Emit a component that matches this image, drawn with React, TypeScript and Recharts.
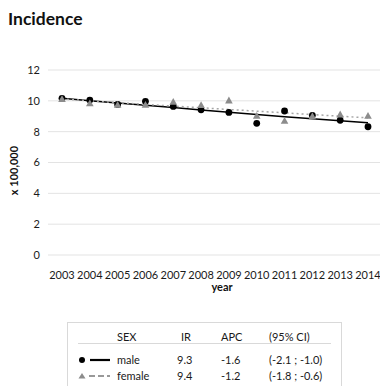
import {
  ComposedChart,
  Line,
  XAxis,
  YAxis,
  CartesianGrid,
} from "recharts";

const years = ["2003", "2004", "2005", "2006", "2007", "2008", "2009", "2010", "2011", "2012", "2013", "2014"];
const maleObserved = [10.16, 10.05, 9.77, 9.97, 9.64, 9.42, 9.25, 8.54, 9.34, 9.06, 8.74, 8.32];
const femaleObserved = [10.12, 9.84, 9.75, 9.75, 9.94, 9.73, 10.03, 9.03, 8.71, 9.01, 9.12, 9.03];
const maleTrend = [10.16, 10.01, 9.86, 9.71, 9.56, 9.41, 9.26, 9.11, 8.97, 8.84, 8.71, 8.58];
const femaleTrend = [10.12, 10.0, 9.88, 9.77, 9.66, 9.55, 9.44, 9.33, 9.22, 9.11, 9.0, 8.9];
const yTicks = [0, 2, 4, 6, 8, 10, 12];

// legend table
const sexLabels = ["male", "female"];
const irValues = ["9.3", "9.4"];
const apcValues = ["-1.6", "-1.2"];
const ciValues = ["(-2.1 ; -1.0)", "(-1.8 ; -0.6)"];

const FONT = "Lato, 'Open Sans', sans-serif";
const MALE = "#000000";
const FEMALE = "#8c8c8c";
const FEMALE_TREND = "#a6a6a6";

const data = years.map((y, i) => ({
  year: y,
  male: maleObserved[i],
  female: femaleObserved[i],
  maleTrend: maleTrend[i],
  femaleTrend: femaleTrend[i],
}));

function CircleDot(props: any) {
  const { cx, cy, index } = props;
  if (cx == null || cy == null) return <g key={index} />;
  return <circle key={index} cx={cx} cy={cy} r={3.4} fill={MALE} />;
}

function TriangleDot(props: any) {
  const { cx, cy, index } = props;
  if (cx == null || cy == null) return <g key={index} />;
  const s = 3.8;
  return (
    <path
      key={index}
      d={`M${cx},${cy - s} L${cx + s},${cy + s * 0.8} L${cx - s},${cy + s * 0.8} Z`}
      fill={FEMALE}
    />
  );
}

function LegendMarker({ row }: { row: number }) {
  return (
    <svg width={34} height={10} style={{ display: "block" }}>
      {row === 0 ? (
        <>
          <circle cx={5} cy={5} r={3} fill={MALE} />
          <line x1={13} x2={33} y1={5} y2={5} stroke={MALE} strokeWidth={2.2} />
        </>
      ) : (
        <>
          <path d="M5,2 L8.5,7.5 L1.5,7.5 Z" fill={FEMALE} />
          <line x1={12} x2={33} y1={5} y2={5} stroke="#999" strokeWidth={2.2} strokeDasharray="6 3" />
        </>
      )}
    </svg>
  );
}

const cellText = { position: "absolute" as const, fontSize: 11, color: "#1a1a1a", whiteSpace: "nowrap" as const, lineHeight: "14px" };

export default function App() {
  return (
    <div style={{ position: "absolute", left: 0, top: 0, width: 380, height: 386, overflow: "hidden", background: "#fff", fontFamily: FONT }}>
      <div style={{ position: "absolute", left: 8, top: 8, fontSize: 17.5, fontWeight: 700, color: "#111" }}>Incidence</div>

      <ComposedChart
        width={380}
        height={300}
        data={data}
        margin={{ top: 70, right: 0, bottom: 0, left: 0 }}
        style={{ position: "absolute", left: 0, top: 0 }}
      >
        <CartesianGrid vertical={false} stroke="#e3e3e3" />
        <XAxis
          dataKey="year"
          height={45}
          axisLine={false}
          tickLine={false}
          tickMargin={10}
          interval={0}
          padding={{ left: 14, right: 12 }}
          tick={{ fill: "#1a1a1a", fontSize: 11, fontFamily: FONT }}
          label={{ value: "year", position: "center", dx: 8, dy: 10, fill: "#111", fontSize: 11, fontWeight: 700, fontFamily: FONT }}
        />
        <YAxis
          domain={[0, 12]}
          ticks={yTicks}
          width={48}
          axisLine={false}
          tickLine={false}
          tick={{ fill: "#1a1a1a", fontSize: 11, fontFamily: FONT }}
          label={{ value: "x 100,000", angle: -90, position: "center", dx: -10, dy: 8, fill: "#111", fontSize: 11, fontWeight: 700, fontFamily: FONT }}
        />
        <Line dataKey="maleTrend" stroke={MALE} strokeWidth={1.5} dot={false} activeDot={false} isAnimationActive={false} />
        <Line dataKey="femaleTrend" stroke={FEMALE_TREND} strokeWidth={1.5} strokeDasharray="2 3" dot={false} activeDot={false} isAnimationActive={false} />
        <Line dataKey="male" stroke="none" dot={CircleDot} activeDot={false} isAnimationActive={false} />
        <Line dataKey="female" stroke="none" dot={TriangleDot} activeDot={false} isAnimationActive={false} />
      </ComposedChart>

      <div style={{ position: "absolute", left: 67, top: 322, width: 273, height: 80, border: "1px solid #d9d9d9" }}>
        <div style={{ ...cellText, left: 49, top: 7 }}>SEX</div>
        <div style={{ ...cellText, left: 113, top: 7 }}>IR</div>
        <div style={{ ...cellText, left: 153, top: 7 }}>APC</div>
        <div style={{ ...cellText, left: 201, top: 7 }}>(95% CI)</div>
        <div style={{ position: "absolute", left: 10, top: 20, width: 253, borderTop: "1px solid #d9d9d9" }} />
        {sexLabels.map((s, i) => (
          <div key={s}>
            <div style={{ position: "absolute", left: 9, top: 32 + i * 16 }}>
              <LegendMarker row={i} />
            </div>
            <div style={{ ...cellText, left: 49, top: 30 + i * 16 }}>{s}</div>
            <div style={{ ...cellText, left: 109, top: 30 + i * 16 }}>{irValues[i]}</div>
            <div style={{ ...cellText, left: 153, top: 30 + i * 16 }}>{apcValues[i]}</div>
            <div style={{ ...cellText, left: 201, top: 30 + i * 16 }}>{ciValues[i]}</div>
          </div>
        ))}
      </div>
    </div>
  );
}
